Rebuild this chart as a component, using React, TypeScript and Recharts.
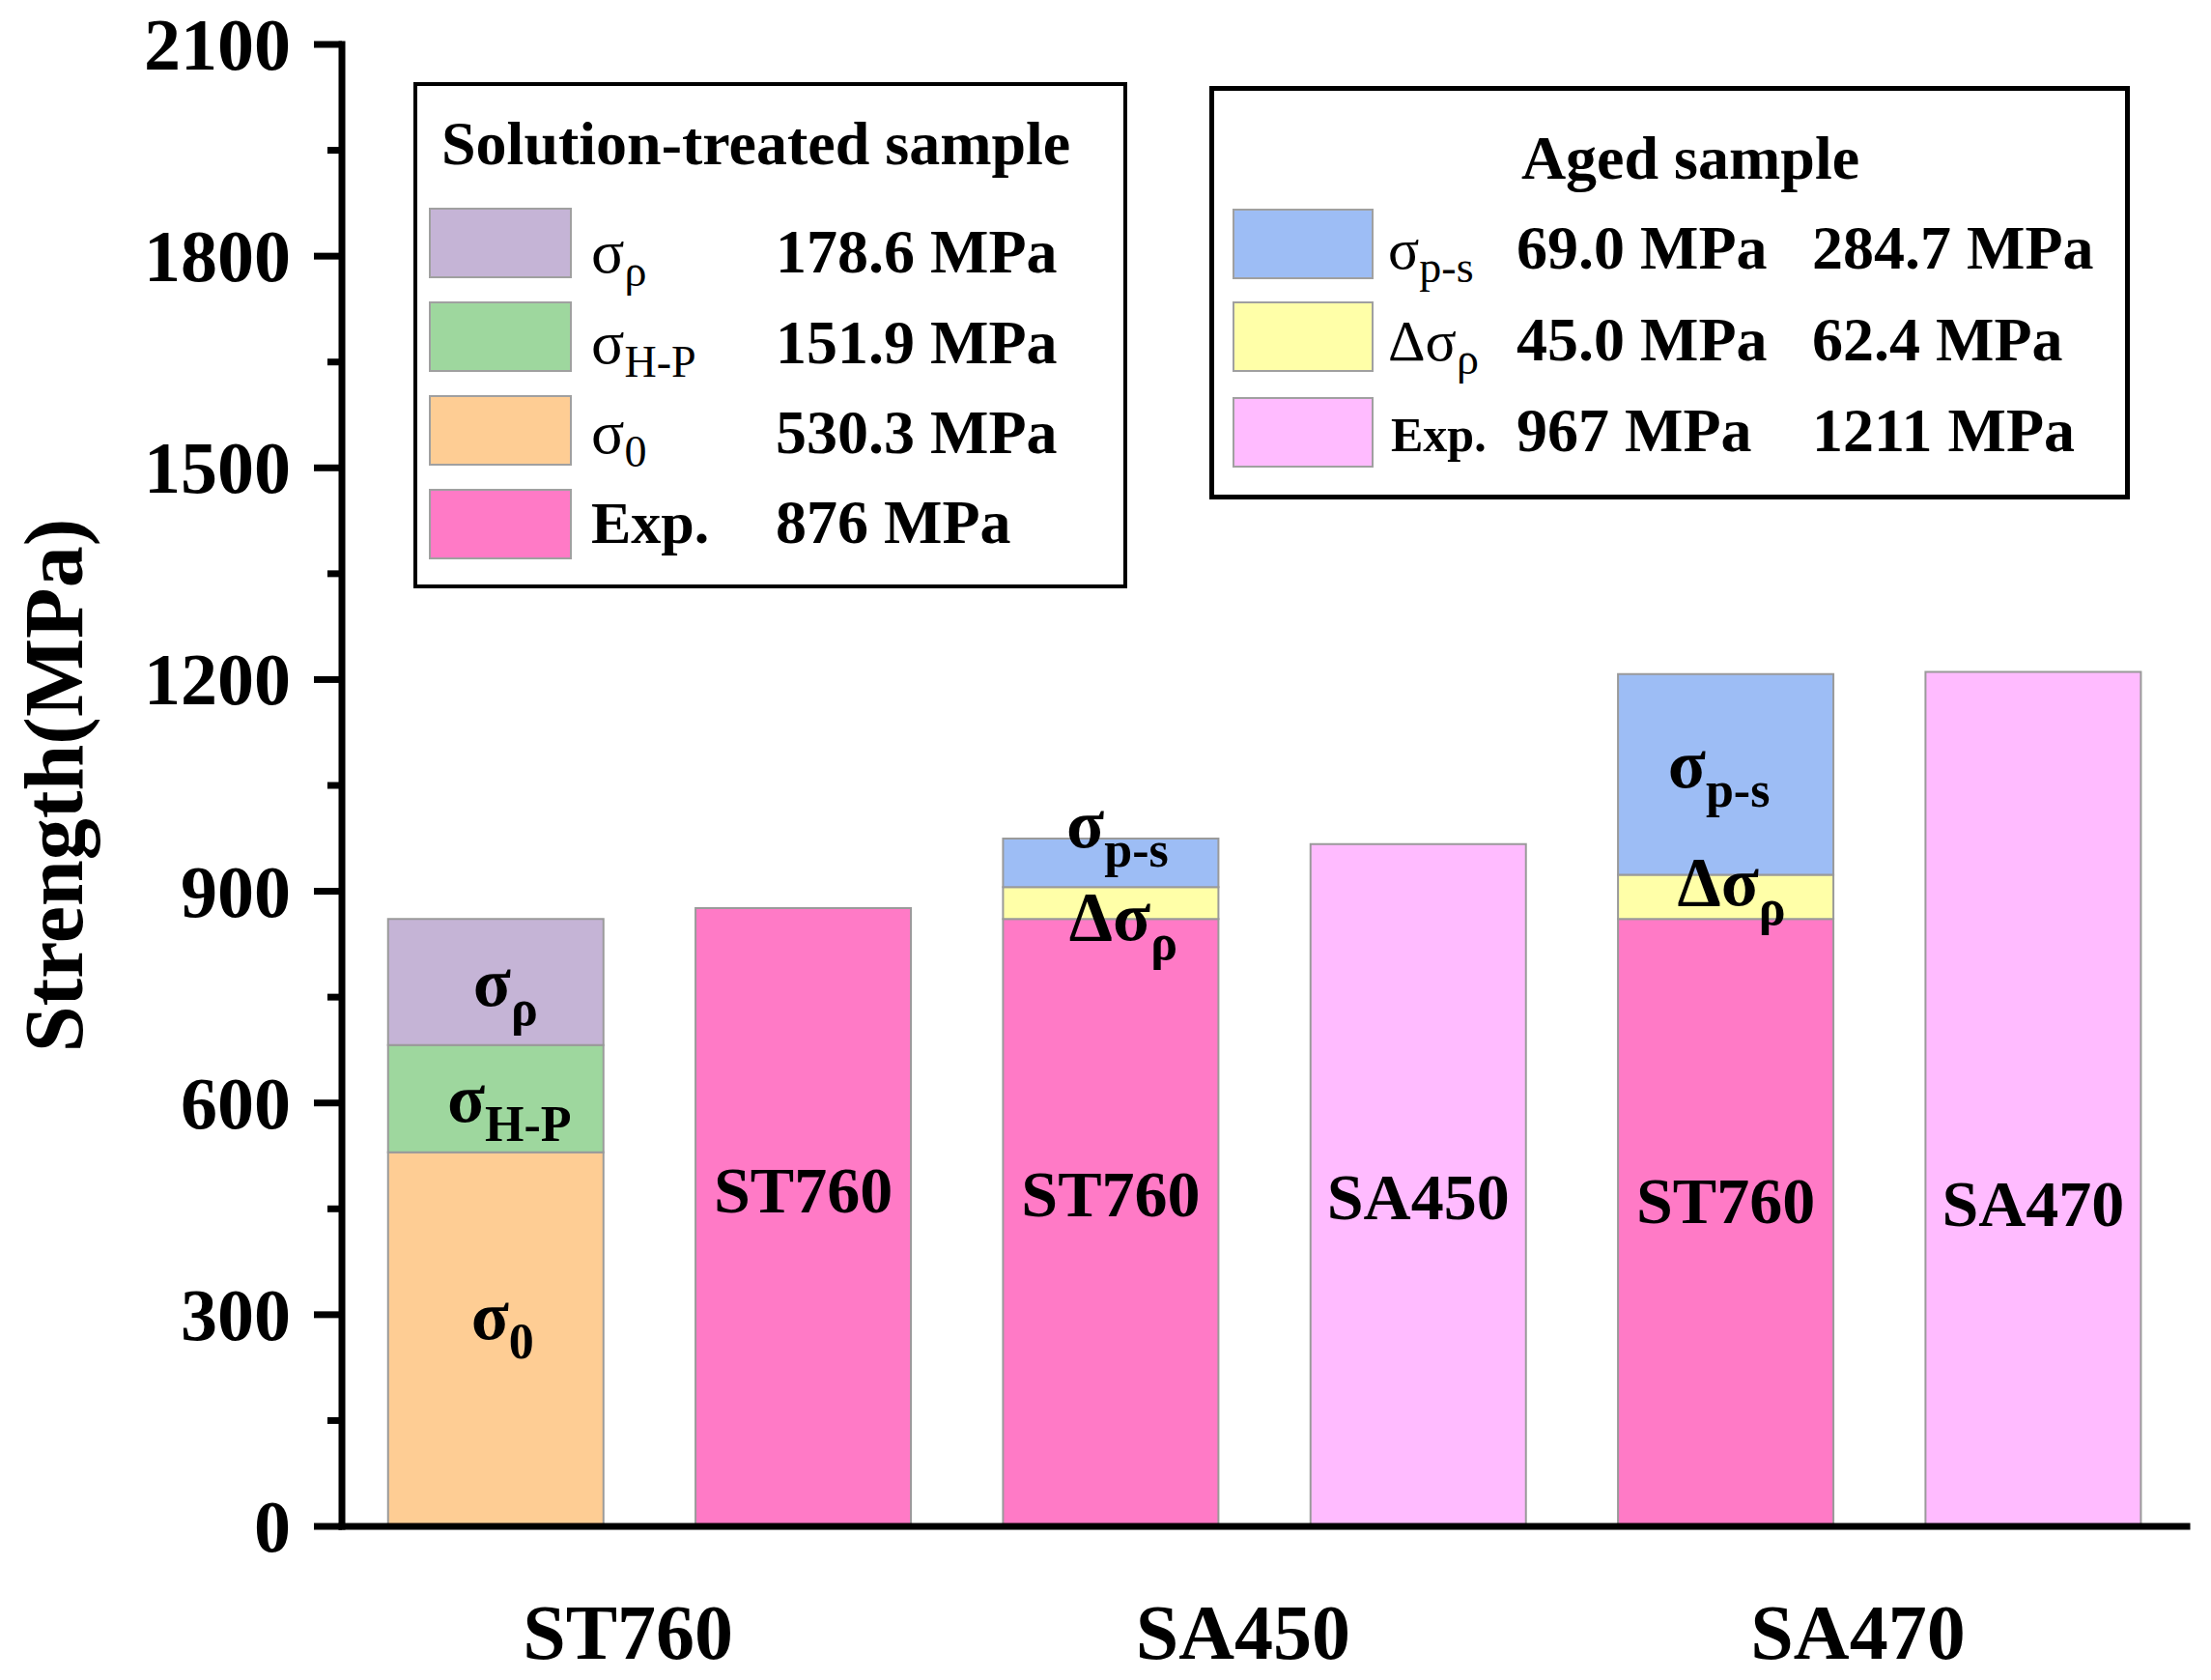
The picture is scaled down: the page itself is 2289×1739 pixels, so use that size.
import { Bar, BarChart, LabelList, Legend, XAxis, YAxis } from 'recharts'

const W = 2289
const H = 1739
const FONT = "'Liberation Serif', 'Times New Roman', serif"
const PLOT_LEFT = 354
const PLOT_RIGHT = 2264

// six bar slots: calculated + experimental for each sample
const slots = ['ST760 calc', 'ST760 exp', 'SA450 calc', 'SA450 exp', 'SA470 calc', 'SA470 exp']
const groupLabels = ['ST760', 'SA450', 'SA470']

// 0 = no segment in that slot
const sigma0 = [530.3, 0, 0, 0, 0, 0]
const sigmaHP = [151.9, 0, 0, 0, 0, 0]
const sigmaRho = [178.6, 0, 0, 0, 0, 0]
const expST = [0, 876, 860.8, 0, 860.8, 0]
const dSigmaRho = [0, 0, 45.0, 0, 62.4, 0]
const sigmaPS = [0, 0, 69.0, 0, 284.7, 0]
const expAged = [0, 0, 0, 967, 0, 1211]

const stText = [null, 'ST760', 'ST760', null, 'ST760', null]
const agedText = [null, null, null, 'SA450', null, 'SA470']

const yTicks = [0, 150, 300, 450, 600, 750, 900, 1050, 1200, 1350, 1500, 1650, 1800, 1950, 2100]

const C = {
  sigma0: '#FECD94',
  sigmaHP: '#9ED79E',
  sigmaRho: '#C5B4D6',
  expST: '#FF7AC6',
  dSigmaRho: '#FFFFA8',
  sigmaPS: '#9DBDF5',
  expAged: '#FFBBFF',
}

const data = slots.map((slot, i) => ({
  slot,
  sigma0: sigma0[i],
  sigmaHP: sigmaHP[i],
  sigmaRho: sigmaRho[i],
  expST: expST[i],
  dSigmaRho: dSigmaRho[i],
  sigmaPS: sigmaPS[i],
  expAged: expAged[i],
}))

// LabelList's index skips empty segments, so find the slot from the payload or the bar position
function slotOf(p: any) {
  const s = p.payload?.slot
  if (s && slots.includes(s)) return slots.indexOf(s)
  const slotW = (PLOT_RIGHT - PLOT_LEFT) / slots.length
  return Math.floor((p.x + p.width / 2 - PLOT_LEFT) / slotW)
}

function Greek({ x, y, main, sub, size = 72, subSize = 52, dy = 20, weight = 'bold', anchor = 'middle' }: any) {
  return (
    <text x={x} y={y} textAnchor={anchor} fontFamily={FONT} fontWeight={weight} fill="#000">
      <tspan fontSize={size}>{main}</tspan>
      <tspan fontSize={subSize} dy={dy}>{sub}</tspan>
    </text>
  )
}

// label offsets (baseline from segment centre, x from bar centre)
const segLabel = (values: number[], main: string, sub: string, off: Record<number, [number, number]>) => (p: any) => {
  const { x, y, width, height } = p
  const i = slotOf(p)
  if (!values[i] || !height) return null
  const [dx, dy] = off[i] ?? [8, 0]
  return <Greek key={i} x={x + width / 2 + dx} y={y + height / 2 + dy} main={main} sub={sub} />
}

const textLabel = (texts: any[]) => (p: any) => {
  const { x, y, width, height } = p
  const i = slotOf(p)
  if (!texts[i] || !height) return null
  return (
    <text
      key={i}
      x={x + width / 2}
      y={y + height - 328 + 3.4 * i}
      textAnchor="middle"
      fontFamily={FONT}
      fontWeight="bold"
      fontSize={68}
      fill="#000"
    >
      {texts[i]}
    </text>
  )
}

function YTick({ x, y, payload }: any) {
  const v = payload.value
  const major = v % 300 === 0
  return (
    <g>
      <line x1={x - (major ? 29 : 15)} x2={x} y1={y} y2={y} stroke="#000" strokeWidth={7} />
      {major && (
        <text x={x - 53} y={y + 26} textAnchor="end" fontFamily={FONT} fontWeight="bold" fontSize={76} fill="#000">
          {v}
        </text>
      )}
    </g>
  )
}

function XTick({ x, y, index }: any) {
  if (index % 2 !== 0) return null
  return (
    <text x={x + 137} y={y + 137} textAnchor="middle" fontFamily={FONT} fontWeight="bold" fontSize={80} fill="#000">
      {groupLabels[index / 2]}
    </text>
  )
}

function YTitle() {
  return (
    <text
      transform="translate(85, 813) rotate(-90)"
      textAnchor="middle"
      fontFamily={FONT}
      fontWeight="bold"
      fontSize={86}
      fill="#000"
    >
      Strength(MPa)
    </text>
  )
}

const mpa = (v: any, d: number) => `${Number(v).toFixed(d)} MPa`

function LegendBoxes() {
  const rows1 = [
    { fill: C.sigmaRho, main: 'σ', sub: 'ρ', value: mpa(sigmaRho[0], 1) },
    { fill: C.sigmaHP, main: 'σ', sub: 'H-P', value: mpa(sigmaHP[0], 1) },
    { fill: C.sigma0, main: 'σ', sub: '0', value: mpa(sigma0[0], 1) },
    { fill: C.expST, main: 'Exp.', sub: '', value: mpa(expST[1], 0) },
  ]
  const rows2 = [
    { fill: C.sigmaPS, main: 'σ', sub: 'p-s', a: mpa(sigmaPS[2], 1), b: mpa(sigmaPS[4], 1) },
    { fill: C.dSigmaRho, main: 'Δσ', sub: 'ρ', a: mpa(dSigmaRho[2], 1), b: mpa(dSigmaRho[4], 1) },
    { fill: C.expAged, main: 'Exp.', sub: '', a: mpa(expAged[3], 0), b: mpa(expAged[5], 0) },
  ]
  const sw1 = [216, 313, 410, 507]
  const bl1 = [282, 376, 469, 562]
  const sw2 = [217, 313, 412]
  const bl2 = [278, 373, 467]
  return (
    <svg width={W} height={620} style={{ display: 'block' }}>
      <rect x={430} y={87} width={735} height={520} fill="#fff" stroke="#000" strokeWidth={4} />
      <text x={457} y={170} fontFamily={FONT} fontWeight="bold" fontSize={64} fill="#000">
        Solution-treated sample
      </text>
      {rows1.map((r, i) => (
        <g key={i}>
          <rect x={445} y={sw1[i]} width={146} height={71} fill={r.fill} stroke="#a0a0a0" strokeWidth={2} />
          {r.sub ? (
            <Greek x={612} y={bl1[i]} main={r.main} sub={r.sub} size={64} subSize={46} dy={14} weight="normal" anchor="start" />
          ) : (
            <text x={612} y={bl1[i]} fontFamily={FONT} fontWeight="bold" fontSize={62} fill="#000">
              {r.main}
            </text>
          )}
          <text x={803} y={bl1[i]} fontFamily={FONT} fontWeight="bold" fontSize={64} fill="#000">
            {r.value}
          </text>
        </g>
      ))}

      <rect x={1254.5} y={91.5} width={948} height={423} fill="#fff" stroke="#000" strokeWidth={5} />
      <text x={1750} y={185} textAnchor="middle" fontFamily={FONT} fontWeight="bold" fontSize={64} fill="#000">
        Aged sample
      </text>
      {rows2.map((r, i) => (
        <g key={i}>
          <rect x={1277} y={sw2[i]} width={144} height={71} fill={r.fill} stroke="#a0a0a0" strokeWidth={2} />
          {r.sub ? (
            <Greek x={1437} y={bl2[i]} main={r.main} sub={r.sub} size={60} subSize={46} dy={14} weight="normal" anchor="start" />
          ) : (
            <text x={1440} y={bl2[i]} fontFamily={FONT} fontWeight="bold" fontSize={50} fill="#000">
              {r.main}
            </text>
          )}
          <text x={1570} y={bl2[i]} fontFamily={FONT} fontWeight="bold" fontSize={64} fill="#000">
            {r.a}
          </text>
          <text x={1876} y={bl2[i]} fontFamily={FONT} fontWeight="bold" fontSize={64} fill="#000">
            {r.b}
          </text>
        </g>
      ))}
    </svg>
  )
}

const axisStyle = { stroke: '#000', strokeWidth: 7, strokeLinecap: 'square' as const }
const barStroke = { stroke: '#9a9a9a', strokeWidth: 2 }

export default function App() {
  return (
    <div style={{ position: 'absolute', left: 0, top: 0, background: '#fff' }}>
      <BarChart
        width={W}
        height={H}
        data={data}
        margin={{ top: 46, right: W - PLOT_RIGHT, bottom: 0, left: 0 }}
        barCategoryGap="15%"
      >
        <XAxis
          dataKey="slot"
          height={159}
          interval={0}
          tick={<XTick />}
          tickLine={false}
          tickSize={0}
          tickMargin={0}
          axisLine={axisStyle}
        />
        <XAxis xAxisId="top" orientation="top" dataKey="slot" height={0} tick={false} tickLine={false} axisLine={axisStyle} />
        <YAxis
          width={PLOT_LEFT}
          domain={[0, 2100]}
          ticks={yTicks}
          interval={0}
          tick={<YTick />}
          tickLine={false}
          tickSize={0}
          tickMargin={0}
          axisLine={axisStyle}
          label={<YTitle />}
        />
        <YAxis yAxisId="right" orientation="right" width={0} domain={[0, 2100]} tick={false} tickLine={false} axisLine={axisStyle} />
        <Legend
          layout="vertical"
          align="center"
          verticalAlign="middle"
          content={() => <LegendBoxes />}
          wrapperStyle={{ top: 0, left: 0, width: W, height: 620 }}
        />

        <Bar dataKey="sigma0" stackId="s" fill={C.sigma0} {...barStroke} isAnimationActive={false}>
          <LabelList dataKey="sigma0" content={segLabel(sigma0, 'σ', '0', { 0: [7, 0] })} />
        </Bar>
        <Bar dataKey="sigmaHP" stackId="s" fill={C.sigmaHP} {...barStroke} isAnimationActive={false}>
          <LabelList dataKey="sigmaHP" content={segLabel(sigmaHP, 'σ', 'H-P', { 0: [14, 24] })} />
        </Bar>
        <Bar dataKey="sigmaRho" stackId="s" fill={C.sigmaRho} {...barStroke} isAnimationActive={false}>
          <LabelList dataKey="sigmaRho" content={segLabel(sigmaRho, 'σ', 'ρ', { 0: [10, 25] })} />
        </Bar>
        <Bar dataKey="expST" stackId="s" fill={C.expST} {...barStroke} isAnimationActive={false}>
          <LabelList dataKey="expST" content={textLabel(stText)} />
        </Bar>
        <Bar dataKey="dSigmaRho" stackId="s" fill={C.dSigmaRho} {...barStroke} isAnimationActive={false}>
          <LabelList dataKey="dSigmaRho" content={segLabel(dSigmaRho, 'Δσ', 'ρ', { 2: [13, 38], 4: [6, 9] })} />
        </Bar>
        <Bar dataKey="sigmaPS" stackId="s" fill={C.sigmaPS} {...barStroke} isAnimationActive={false}>
          <LabelList dataKey="sigmaPS" content={segLabel(sigmaPS, 'σ', 'p-s', { 2: [7, -16], 4: [-7, 13] })} />
        </Bar>
        <Bar dataKey="expAged" stackId="s" fill={C.expAged} {...barStroke} isAnimationActive={false}>
          <LabelList dataKey="expAged" content={textLabel(agedText)} />
        </Bar>
      </BarChart>
    </div>
  )
}
